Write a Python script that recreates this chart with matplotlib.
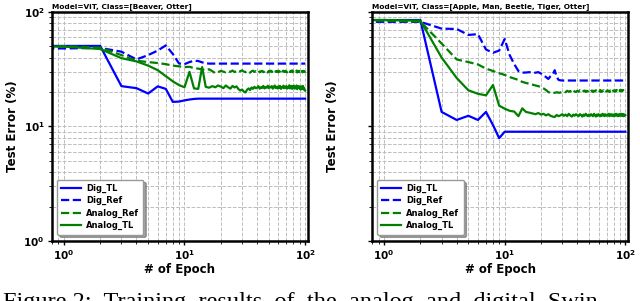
import matplotlib
matplotlib.use("Agg")
import matplotlib.pyplot as plt
import numpy as np

EPOCHS = np.arange(0, 101)
SERIES_LABELS = ["Dig_TL", "Dig_Ref", "Analog_Ref", "Analog_TL"]
TITLES = [
    "Model=ViT, Class=[Beaver, Otter]",
    "Model=ViT, Class=[Apple, Man, Beetle, Tiger, Otter]",
]

# --- left panel: Beaver / Otter ---
beaver_dig_tl = [
    50.5, 50.5, 50.5, 22.5, 21.6, 19.4, 22.4, 21.3, 16.4, 16.5,
    16.9, 17.2, 17.4, 17.5, 17.5, 17.5, 17.5, 17.5, 17.5, 17.5,
    17.5, 17.5, 17.5, 17.5, 17.5, 17.5, 17.5, 17.5, 17.5, 17.5,
    17.5, 17.5, 17.5, 17.5, 17.5, 17.5, 17.5, 17.5, 17.5, 17.5,
    17.5, 17.5, 17.5, 17.5, 17.5, 17.5, 17.5, 17.5, 17.5, 17.5,
    17.5, 17.5, 17.5, 17.5, 17.5, 17.5, 17.5, 17.5, 17.5, 17.5,
    17.5, 17.5, 17.5, 17.5, 17.5, 17.5, 17.5, 17.5, 17.5, 17.5,
    17.5, 17.5, 17.5, 17.5, 17.5, 17.5, 17.5, 17.5, 17.5, 17.5,
    17.5, 17.5, 17.5, 17.5, 17.5, 17.5, 17.5, 17.5, 17.5, 17.5,
    17.5, 17.5, 17.5, 17.5, 17.5, 17.5, 17.5, 17.5, 17.5, 17.5,
    17.5,
]
beaver_dig_ref = [
    48.0, 48.0, 48.5, 45.0, 38.5, 42.0, 46.0, 51.0, 43.0, 35.5,
    35.0, 36.5, 37.5, 37.3, 36.3, 35.6, 35.4, 35.4, 35.4, 35.4,
    35.4, 35.4, 35.4, 35.4, 35.4, 35.4, 35.4, 35.4, 35.4, 35.4,
    35.4, 35.4, 35.4, 35.4, 35.4, 35.4, 35.4, 35.4, 35.4, 35.4,
    35.4, 35.4, 35.4, 35.4, 35.4, 35.4, 35.4, 35.4, 35.4, 35.4,
    35.4, 35.4, 35.4, 35.4, 35.4, 35.4, 35.4, 35.4, 35.4, 35.4,
    35.4, 35.4, 35.4, 35.4, 35.4, 35.4, 35.4, 35.4, 35.4, 35.4,
    35.4, 35.4, 35.4, 35.4, 35.4, 35.4, 35.4, 35.4, 35.4, 35.4,
    35.4, 35.4, 35.4, 35.4, 35.4, 35.4, 35.4, 35.4, 35.4, 35.4,
    35.4, 35.4, 35.4, 35.4, 35.4, 35.4, 35.4, 35.4, 35.4, 35.4,
    35.4,
]
beaver_ana_ref = [
    50.5, 50.3, 48.8, 42.0, 37.5, 36.5, 35.8, 35.0, 34.0, 33.5,
    33.0, 33.2, 32.3, 32.0, 31.5, 31.0, 31.6, 30.4, 29.2, 29.8,
    30.6, 30.1, 29.7, 30.5, 30.0, 30.8, 29.9, 30.3, 29.6, 30.4,
    30.9, 30.2, 29.8, 30.6, 30.1, 29.5, 30.3, 30.7, 29.9, 30.4,
    30.0, 30.8, 29.7, 30.3, 30.6, 29.8, 30.2, 30.9, 30.0, 29.6,
    30.5, 30.1, 30.7, 29.9, 30.3, 30.8, 29.7, 30.4, 30.0, 30.6,
    29.8, 30.5, 30.2, 30.9, 29.6, 30.3, 30.7, 30.0, 29.9, 30.6,
    30.2, 29.7, 30.8, 30.1, 30.4, 29.9, 30.6, 30.2, 30.9, 29.8,
    30.3, 30.7, 29.9, 30.4, 30.1, 30.8, 29.6, 30.5, 30.2, 30.6,
    29.9, 30.4, 30.8, 30.0, 30.5, 29.7, 30.3, 30.6, 29.9, 30.2,
    29.5,
]
beaver_ana_tl = [
    50.0, 49.8, 47.5, 39.5, 37.0, 34.0, 31.0, 27.5, 24.8, 23.0,
    22.0, 30.0, 21.5, 21.3, 33.0, 22.2, 21.8, 22.5, 22.0, 22.8,
    22.3, 21.6, 22.8, 22.0, 21.4, 22.6, 21.9, 22.4, 21.2, 20.6,
    21.0, 20.2, 19.8, 20.9, 21.5, 20.8, 21.9, 21.3, 22.2, 21.6,
    21.8, 22.5, 21.4, 22.0, 21.7, 22.6, 21.5, 22.1, 21.8, 22.7,
    21.6, 22.3, 21.9, 22.5, 21.4, 22.0, 22.8, 21.7, 22.2, 21.5,
    22.4, 21.8, 22.6, 21.3, 22.1, 21.9, 22.7, 21.6, 22.3, 21.8,
    22.5, 21.4, 22.2, 21.7, 22.9, 21.5, 22.0, 22.6, 21.3, 22.4,
    21.9, 22.7, 21.4, 22.1, 21.6, 22.8, 21.2, 22.3, 21.7, 22.5,
    21.5, 22.2, 21.0, 22.4, 21.3, 21.9, 22.6, 21.1, 21.7, 20.9,
    20.6,
]

# --- right panel: Apple / Man / Beetle / Tiger / Otter ---
five_dig_tl = [
    85.0, 85.0, 85.0, 13.4, 11.4, 12.4, 11.4, 13.4, 10.3, 7.9,
    9.0, 9.0, 9.0, 9.0, 9.0, 9.0, 9.0, 9.0, 9.0, 9.0,
    9.0, 9.0, 9.0, 9.0, 9.0, 9.0, 9.0, 9.0, 9.0, 9.0,
    9.0, 9.0, 9.0, 9.0, 9.0, 9.0, 9.0, 9.0, 9.0, 9.0,
    9.0, 9.0, 9.0, 9.0, 9.0, 9.0, 9.0, 9.0, 9.0, 9.0,
    9.0, 9.0, 9.0, 9.0, 9.0, 9.0, 9.0, 9.0, 9.0, 9.0,
    9.0, 9.0, 9.0, 9.0, 9.0, 9.0, 9.0, 9.0, 9.0, 9.0,
    9.0, 9.0, 9.0, 9.0, 9.0, 9.0, 9.0, 9.0, 9.0, 9.0,
    9.0, 9.0, 9.0, 9.0, 9.0, 9.0, 9.0, 9.0, 9.0, 9.0,
    9.0, 9.0, 9.0, 9.0, 9.0, 9.0, 9.0, 9.0, 9.0, 9.0,
    9.0,
]
five_dig_ref = [
    82.0, 82.0, 82.0, 71.5, 71.0, 63.0, 64.0, 47.0, 44.0, 46.0,
    58.0, 42.0, 35.0, 30.5, 29.5, 29.6, 29.8, 29.3, 29.5, 29.8,
    29.0, 28.0, 27.0, 26.0, 27.5, 28.5, 31.0, 27.0, 25.5, 25.3,
    25.2, 25.2, 25.2, 25.2, 25.2, 25.2, 25.2, 25.2, 25.2, 25.2,
    25.2, 25.2, 25.2, 25.2, 25.2, 25.2, 25.2, 25.2, 25.2, 25.2,
    25.2, 25.2, 25.2, 25.2, 25.2, 25.2, 25.2, 25.2, 25.2, 25.2,
    25.2, 25.2, 25.2, 25.2, 25.2, 25.2, 25.2, 25.2, 25.2, 25.2,
    25.2, 25.2, 25.2, 25.2, 25.2, 25.2, 25.2, 25.2, 25.2, 25.2,
    25.2, 25.2, 25.2, 25.2, 25.2, 25.2, 25.2, 25.2, 25.2, 25.2,
    25.2, 25.2, 25.2, 25.2, 25.2, 25.2, 25.2, 25.2, 25.2, 25.2,
    25.2,
]
five_ana_ref = [
    84.0, 84.0, 82.5, 53.0, 38.5, 36.5, 34.8, 32.0, 30.5, 29.2,
    28.2, 27.0, 26.2, 25.5, 24.5, 24.0, 23.6, 23.2, 22.8, 22.5,
    22.0, 21.5, 20.8, 20.0, 19.6, 19.5, 19.7, 19.9, 19.7, 19.8,
    20.0, 20.3, 19.9, 20.5, 20.1, 20.4, 19.8, 20.6, 20.2, 20.0,
    20.5, 20.1, 20.7, 20.3, 19.9, 20.4, 20.6, 20.0, 20.5, 20.2,
    20.8, 20.1, 20.4, 20.6, 20.0, 20.5, 20.3, 20.7, 20.1, 20.4,
    20.6, 20.2, 20.8, 20.0, 20.5, 20.3, 20.7, 20.1, 20.6, 20.4,
    20.2, 20.7, 20.3, 20.5, 20.0, 20.6, 20.4, 20.8, 20.2, 20.5,
    20.3, 20.7, 20.1, 20.6, 20.4, 20.8, 20.2, 20.5, 20.6, 20.3,
    20.7, 20.4, 20.9, 20.3, 20.6, 20.5, 20.8, 20.4, 20.7, 20.5,
    20.8,
]
five_ana_tl = [
    85.0, 85.0, 84.0, 40.0, 26.5, 20.7, 19.3, 18.7, 23.0, 15.2,
    14.3, 13.7, 13.5, 12.3, 14.4, 13.4, 13.2, 13.0, 12.8, 13.1,
    12.7, 12.9, 12.5, 12.8, 12.4, 12.2, 12.1, 12.6, 12.3, 12.5,
    12.8, 12.4, 12.7, 12.3, 12.9, 12.5, 12.2, 12.7, 12.4, 12.8,
    12.5, 12.3, 12.8, 12.6, 12.2, 12.7, 12.4, 12.9, 12.5, 12.3,
    12.7, 12.4, 12.8, 12.5, 12.3, 12.9, 12.6, 12.2, 12.7, 12.4,
    12.8, 12.5, 12.3, 12.7, 12.4, 12.9, 12.6, 12.3, 12.8, 12.5,
    12.4, 12.7, 12.5, 12.9, 12.3, 12.6, 12.8, 12.4, 12.7, 12.5,
    12.3, 12.8, 12.6, 12.4, 12.9, 12.5, 12.7, 12.3, 12.6, 12.8,
    12.4, 12.7, 12.5, 12.9, 12.4, 12.6, 12.8, 12.3, 12.7, 12.5,
    12.6,
]

STYLES = [("blue", "-"), ("blue", "--"), ("green", "--"), ("green", "-")]


def draw_panel(ax, series, title, show_yticklabels):
    for values, label, (color, ls) in zip(series, SERIES_LABELS, STYLES):
        ax.plot(EPOCHS, values, color=color, linestyle=ls, lw=1.6, label=label)

    ax.set_xscale("log")
    ax.set_yscale("log")
    ax.set_xlim(0.79, 106)
    ax.set_ylim(1, 100)

    ax.grid(True, which="both", linestyle="--", color="#bdbdbd", lw=0.7)
    for spine in ax.spines.values():
        spine.set_linewidth(1.8)
        spine.set_color("black")

    ax.tick_params(which="major", labelsize=7.5, length=3, width=1, pad=2)
    ax.tick_params(which="minor", length=2, width=0.6)
    for lbl in ax.get_xticklabels() + ax.get_yticklabels():
        lbl.set_fontweight("bold")
    if not show_yticklabels:
        ax.tick_params(axis="y", which="both", labelleft=False)

    ax.set_xlabel("# of Epoch", fontsize=8.5, fontweight="bold", labelpad=1)
    ax.set_ylabel("Test Error (%)", fontsize=8.5, fontweight="bold")
    ax.yaxis.set_label_coords(-0.128, 0.5)
    ax.set_title(title, loc="left", fontsize=5.35, fontweight="bold", pad=2.5)

    leg = ax.legend(loc="lower left", fontsize=6, shadow=True, fancybox=True,
                    handlelength=2.4, handletextpad=0.6, borderpad=0.5,
                    labelspacing=0.4, bbox_to_anchor=(0.005, 0.01))
    leg.get_frame().set_edgecolor("#999999")
    for t in leg.get_texts():
        t.set_fontweight("bold")


def main():
    fig = plt.figure(figsize=(6.4, 3.01), dpi=100)
    ax1 = fig.add_axes([0.0805, 0.1993, 0.401, 0.761])
    ax2 = fig.add_axes([0.5808, 0.1993, 0.401, 0.761])

    draw_panel(ax1, [beaver_dig_tl, beaver_dig_ref, beaver_ana_ref, beaver_ana_tl],
               TITLES[0], True)
    draw_panel(ax2, [five_dig_tl, five_dig_ref, five_ana_ref, five_ana_tl],
               TITLES[1], False)

    # caption of the paper figure, cut off by the crop as in the source page
    fig.text(0.004, 0.03, "Figure 2:  Training  results  of  the  analog  and  digital  Swin",
             family="Liberation Serif", fontsize=17.5, va="top", ha="left")

    fig.savefig("out.png", dpi=100)
    plt.close(fig)


if __name__ == "__main__":
    main()
